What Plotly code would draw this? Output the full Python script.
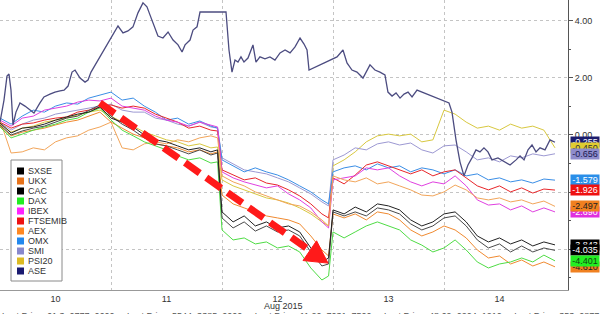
import plotly.graph_objects as go

# ---------------- data (percent change, Aug 10-14 2015) ----------------
T = [0.0, 0.1, 0.2, 0.3, 0.4, 0.5, 0.6, 0.7, 0.8, 0.9, 1.0, 1.1, 1.2, 1.3, 1.4, 1.5, 1.6, 1.7, 1.8, 1.9,
     1.96, 2.0, 2.1, 2.2, 2.3, 2.4, 2.5, 2.6, 2.7, 2.8, 2.9, 2.96, 3.0, 3.1, 3.2, 3.3, 3.4, 3.5, 3.6, 3.7,
     3.8, 3.9, 4.0, 4.1, 4.2, 4.3, 4.4, 4.5, 4.6, 4.7, 4.8, 4.9, 5.0]

omx = [0.59, 0.38, 0.66, 0.87, 0.80, 1.01, 1.12, 1.08, 1.29, 1.40, 1.50, 1.22, 1.29, 1.01, 0.80, 0.52, 0.59, 0.38, 0.49, 0.31, 0.24,
       -0.87, -1.08, -1.29, -1.15, -1.29, -1.40, -1.57, -1.78, -1.99, -2.27, -2.41,
       -1.29, -1.15, -1.08, -1.22, -1.01, -1.15, -1.08, -1.29, -1.15, -1.22, -1.36, -1.22, -1.43, -1.36, -1.57, -1.50, -1.64, -1.57, -1.68, -1.54, -1.579]
ibex = [0.52, 0.31, 0.59, 0.66, 0.87, 0.94, 1.01, 1.15, 1.22, 1.19, 1.29, 1.01, 0.94, 0.87, 0.66, 0.52, 0.45, 0.31, 0.45, 0.35, 0.28,
        -1.29, -1.50, -1.64, -1.75, -1.85, -1.78, -2.06, -2.27, -2.55, -3.04, -3.25,
        -1.57, -1.50, -1.43, -1.15, -1.22, -1.15, -1.43, -1.64, -1.78, -1.64, -1.71, -1.43, -1.78, -2.27, -2.45, -2.41, -2.62, -2.48, -2.69, -2.55, -2.69]
ftsemib = [0.45, 0.24, 0.38, 0.42, 0.52, 0.59, 0.63, 0.80, 0.87, 0.98, 1.05, 0.94, 1.01, 0.94, 0.73, 0.59, 0.45, 0.24, 0.31, 0.17, 0.14,
           -1.22, -1.40, -1.57, -1.50, -1.68, -1.75, -1.92, -2.13, -2.41, -2.76, -2.90,
           -1.50, -1.71, -1.40, -1.05, -0.94, -1.08, -1.22, -1.36, -1.22, -1.43, -1.29, -1.22, -1.50, -1.78, -1.92, -1.78, -1.99, -1.85, -2.03, -1.89, -1.926]
smi = [0.42, 0.17, 0.38, 0.52, 0.59, 0.73, 0.80, 0.87, 0.94, 1.01, 1.08, 0.87, 0.80, 0.80, 0.59, 0.52, 0.38, 0.31, 0.45, 0.28, 0.24,
       -0.80, -1.01, -1.22, -1.29, -1.36, -1.50, -1.64, -1.85, -2.06, -2.34, -2.48,
       -0.87, -0.70, -0.45, -0.52, -0.31, -0.24, -0.35, -0.28, -0.52, -0.63, -0.38, -0.35, -0.59, -0.87, -0.80, -0.94, -0.73, -0.80, -0.66, -0.73, -0.656]
ukx = [0.52, -0.63, -0.59, -0.45, -0.52, -0.24, -0.10, -0.03, 0.17, 0.28, 0.45, -0.45, -0.52, -0.31, -0.24, -0.31, -0.17, -0.24, -0.10, -0.03, -0.10,
       -1.43, -1.64, -1.78, -1.99, -2.13, -2.27, -2.41, -2.48, -2.69, -2.97, -3.18,
       -1.43, -1.57, -1.64, -1.50, -1.71, -1.64, -1.78, -1.92, -2.10, -2.13, -1.99, -1.75, -1.92, -2.20, -2.27, -2.20, -2.34, -2.27, -2.41, -2.31, -2.497]
sxse = [0.42, 0.07, 0.24, 0.28, 0.38, 0.52, 0.63, 0.73, 0.80, 0.98, 0.59, 0.45, 0.28, 0.00, -0.17, -0.24, -0.38, -0.52, -0.45, -0.59, -0.52,
        -2.69, -3.04, -2.83, -3.18, -3.04, -3.25, -3.18, -3.39, -3.95, -4.44, -4.30,
        -2.62, -2.76, -2.52, -2.69, -2.41, -2.48, -2.62, -2.97, -3.18, -3.04, -2.76, -2.69, -3.04, -3.53, -3.74, -3.60, -3.81, -3.67, -3.88, -3.74, -3.843]
cac = [0.35, 0.00, 0.14, 0.24, 0.31, 0.45, 0.59, 0.66, 0.87, 1.05, 0.66, 0.38, 0.17, -0.10, -0.31, -0.38, -0.52, -0.66, -0.52, -0.70, -0.63,
       -2.90, -3.25, -3.04, -3.36, -3.18, -3.39, -3.32, -3.53, -4.09, -4.58, -4.51,
       -2.69, -2.83, -2.69, -2.83, -2.55, -2.62, -2.76, -3.11, -3.32, -3.18, -2.90, -2.83, -3.18, -3.67, -3.95, -3.81, -4.09, -3.88, -4.09, -3.95, -4.035]
aex = [0.31, -0.03, 0.10, 0.17, 0.24, 0.35, 0.45, 0.52, 0.66, 0.80, 0.45, 0.24, 0.03, -0.10, -0.31, -0.38, -0.45, -0.59, -0.52, -0.66, -0.59,
       -2.10, -2.41, -2.55, -2.69, -2.83, -2.90, -2.97, -3.11, -3.53, -4.02, -4.23,
       -2.76, -2.90, -2.76, -2.97, -2.69, -2.76, -2.97, -3.32, -3.53, -3.39, -3.18, -3.32, -3.60, -4.02, -4.30, -4.23, -4.51, -4.37, -4.58, -4.44, -4.61]
dax = [0.28, -0.10, 0.03, 0.17, 0.28, 0.38, 0.52, 0.59, 0.80, 0.94, 0.52, 0.17, -0.03, -0.24, -0.38, -0.52, -0.73, -0.87, -0.80, -0.98, -0.94,
       -3.32, -3.67, -3.60, -3.81, -3.74, -3.95, -3.88, -4.09, -4.65, -5.07, -4.93,
       -3.39, -3.60, -3.39, -3.18, -3.04, -3.18, -3.32, -3.67, -3.85, -4.09, -3.95, -3.67, -4.02, -4.44, -4.65, -4.51, -4.44, -4.30, -4.44, -4.20, -4.401]
psi20 = [0.38, 0.10, 0.24, 0.31, 0.45, 0.52, 0.59, 0.70, 0.80, 0.87, 0.66, 0.45, 0.31, 0.10, -0.03, -0.17, -0.24, -0.38, -0.31, -0.45, -0.42,
         -1.57, -1.78, -1.92, -2.06, -2.20, -2.27, -2.38, -2.55, -2.76, -3.04, -3.18,
         -1.08, -0.87, -0.59, -0.24, -0.03, 0.03, -0.03, 0.03, -0.24, -0.17, 0.87, 0.73, 0.45, 0.24, 0.31, 0.17, 0.38, 0.24, 0.31, 0.17, -0.45]

ase_t = [0.0, 0.036, 0.063, 0.081, 0.099, 0.117, 0.144, 0.18, 0.225, 0.27, 0.306, 0.36, 0.396, 0.45, 0.495, 0.541, 0.577, 0.613,
         0.649, 0.676, 0.721, 0.766, 0.793, 0.82, 1.036, 1.063, 1.108, 1.153, 1.198, 1.243, 1.288, 1.324, 1.351, 1.396, 1.423,
         1.468, 1.514, 1.559, 1.604, 1.64, 1.667, 1.712, 1.739, 1.775, 1.802, 2.036, 2.063, 2.09, 2.117, 2.144, 2.171, 2.198,
         2.234, 2.279, 2.306, 2.342, 2.387, 2.432, 2.477, 2.523, 2.568, 2.613, 2.658, 2.703, 2.739, 2.766, 2.784, 3.036, 3.09,
         3.126, 3.171, 3.216, 3.27, 3.333, 3.378, 3.423, 3.468, 3.495, 3.532, 3.568, 3.604, 3.64, 3.676, 3.712, 3.757, 4.045,
         4.072, 4.108, 4.144, 4.18, 4.216, 4.252, 4.288, 4.324, 4.36, 4.396, 4.432, 4.486, 4.541, 4.595, 4.649, 4.685, 4.721,
         4.757, 4.793, 4.829, 4.865, 4.91, 4.955, 5.0]
ase_v = [0.45, 1.22, 2.06, 2.13, 1.57, 0.35, 0.80, 1.12, 1.01, 0.87, 0.77, 1.12, 1.33, 1.43, 1.50, 1.54, 1.57, 1.71,
         2.20, 2.27, 1.99, 1.85, 1.92, 2.20, 3.67, 3.81, 3.57, 3.64, 3.78, 4.27, 4.62, 4.48, 4.20, 3.74, 3.46,
         3.39, 3.60, 3.32, 3.15, 2.90, 3.15, 3.32, 3.67, 3.78, 4.30, 4.30, 2.97, 2.20, 2.62, 2.55, 2.73, 2.55,
         2.69, 3.15, 2.55, 2.73, 2.66, 2.73, 2.62, 2.87, 2.97, 2.87, 3.08, 3.39, 3.18, 2.97, 2.27, 2.73, 2.97,
         2.52, 2.27, 2.20, 1.99, 2.45, 2.27, 2.20, 2.10, 1.50, 1.36, 1.47, 1.29, 1.43, 1.50, 1.33, 1.57, 1.12,
         0.80, -0.17, -0.94, -1.43, -1.05, -0.80, -0.52, -0.59, -0.45, -0.59, -0.87, -0.80, -0.94, -1.05, -0.87, -0.73, -0.87,
         -0.52, -0.35, -0.59, -0.45, -0.52, -0.17, -0.255]

day_labels = ["10", "11", "12", "13", "14"]
y_ticks = [-4, -2, 0, 2, 4]
y_tick_text = ["", "", "0.00", "2.00", "4.00"]  # -2.00 / -4.00 sit hidden under the value tags
legend_names = ["SXSE", "UKX", "CAC", "DAX", "IBEX", "FTSEMIB", "AEX", "OMX", "SMI", "PSI20", "ASE"]
# last-value tags, drawn in this order (later ones on top)
tag_order = ["ASE", "PSI20", "SMI", "OMX", "FTSEMIB", "IBEX", "UKX", "SXSE", "CAC", "AEX", "DAX"]

series = {"SXSE": sxse, "UKX": ukx, "CAC": cac, "DAX": dax, "IBEX": ibex, "FTSEMIB": ftsemib,
          "AEX": aex, "OMX": omx, "SMI": smi, "PSI20": psi20}

# ---------------- styles ----------------
line_col = {"SXSE": "#222222", "UKX": "#f2a55a", "CAC": "#4a4a4a", "DAX": "#4fdc45", "IBEX": "#e040e0",
            "FTSEMIB": "#e8262a", "AEX": "#f08a30", "OMX": "#3a8ee6", "SMI": "#9c98d2", "PSI20": "#d8c840",
            "ASE": "#4c4c80"}
swatch_col = {"SXSE": "#000000", "UKX": "#e8731a", "CAC": "#000000", "DAX": "#22ee22", "IBEX": "#ff22ff",
              "FTSEMIB": "#ee1111", "AEX": "#ff8822", "OMX": "#2288ee", "SMI": "#8888cc", "PSI20": "#ddbb22",
              "ASE": "#1a1a70"}
tag_bg = {"ASE": "#1c1c6c", "PSI20": "#e0cc30", "SMI": "#8e8ccc", "OMX": "#2a8ee8", "FTSEMIB": "#ee1111",
          "IBEX": "#e030e0", "UKX": "#f08020", "SXSE": "#000000", "CAC": "#000000", "AEX": "#f08020",
          "DAX": "#22ee22"}
tag_fg = {"ASE": "white", "PSI20": "#333333", "SMI": "#1a1a50", "OMX": "white", "FTSEMIB": "white",
          "IBEX": "white", "UKX": "#222222", "SXSE": "white", "CAC": "white", "AEX": "#222222", "DAX": "#114411"}

FONT = "Liberation Sans Narrow, Arial Narrow, Liberation Sans, Arial, sans-serif"
PW, PH = 568.0, 290.0  # plot area size in px

def px(x):
    return x / PW

def py(y):
    return (PH - y) / PH

fig = go.Figure()

draw_order = ["PSI20", "SMI", "OMX", "FTSEMIB", "IBEX", "UKX", "AEX", "DAX", "CAC", "SXSE"]
for name in draw_order:
    fig.add_trace(go.Scatter(x=T, y=series[name], mode="lines", name=name,
                             line=dict(color=line_col[name], width=1), hoverinfo="skip"))
fig.add_trace(go.Scatter(x=ase_t, y=ase_v, mode="lines", name="ASE",
                         line=dict(color=line_col["ASE"], width=1.3), hoverinfo="skip"))

shapes = []
annotations = []

# red dashed trend arrow
shapes.append(dict(type="line", xref="x", yref="y", x0=0.90, y0=1.12, x1=2.793, y1=-4.04,
                   line=dict(color="#ff1a1a", width=7, dash="18px,8px")))
shapes.append(dict(type="path", xref="x", yref="y",
                   path="M 2.955,-4.48 L 2.730,-4.39 L 2.852,-3.70 Z",
                   fillcolor="#ff1a1a", line=dict(color="#ff1a1a", width=1)))

# legend box
shapes.append(dict(type="rect", xref="paper", yref="paper", x0=px(11), x1=px(62), y0=py(281), y1=py(160),
                   fillcolor="white", line=dict(color="#8a8a8a", width=1), layer="above"))
for i, name in enumerate(legend_names):
    yc = 171 + 10 * i
    shapes.append(dict(type="rect", xref="paper", yref="paper", x0=px(17), x1=px(24),
                       y0=py(yc + 3.5), y1=py(yc - 3.5), fillcolor=swatch_col[name],
                       line=dict(width=0), layer="above"))
    annotations.append(dict(xref="paper", yref="paper", x=px(26), y=py(yc), text=name, showarrow=False,
                            xanchor="left", yanchor="middle", font=dict(family=FONT, size=9, color="#333333")))

# last value tags on the right
tag_vals = {"SXSE": sxse[-1], "UKX": ukx[-1], "CAC": cac[-1], "DAX": dax[-1], "IBEX": ibex[-1],
            "FTSEMIB": ftsemib[-1], "AEX": aex[-1], "OMX": omx[-1], "SMI": smi[-1], "PSI20": psi20[-1],
            "ASE": ase_v[-1]}
for name in tag_order:
    v = tag_vals[name]
    annotations.append(dict(xref="paper", yref="y", x=1, y=v, xanchor="left", yanchor="middle", xshift=2,
                            text="%.3f" % v, showarrow=False, bgcolor=tag_bg[name], width=28, height=10,
                            borderpad=0, font=dict(family=FONT, size=9, color=tag_fg[name])))

annotations.append(dict(xref="paper", yref="paper", x=px(283), y=py(306), text="Aug 2015", showarrow=False,
                        xanchor="center", yanchor="middle", font=dict(family=FONT, size=9, color="#333333")))
annotations.append(dict(xref="paper", yref="paper", x=0, y=py(316), xanchor="left", yanchor="middle",
                        text="Last Price  61.3  0777  0600     Last Price  5544  3385  0000     Last Price  11.20  7031  7500     Last Price  48.69  0204  1210     Last Price  353  0877  6000",
                        showarrow=False, font=dict(family=FONT, size=9, color="#555555")))

fig.update_layout(
    width=600, height=314,
    margin=dict(l=0, r=32, t=0, b=24),
    paper_bgcolor="white", plot_bgcolor="white",
    showlegend=False,
    shapes=shapes, annotations=annotations,
    xaxis=dict(range=[0, PW / 111.0], tickmode="array", tickvals=[0.5, 1.5, 2.5, 3.5, 4.5], ticktext=day_labels,
               showgrid=False, zeroline=False, showline=True, linecolor="#999999", ticks="",
               tickfont=dict(family=FONT, size=9, color="#333333"),
               minor=dict(tickmode="array", tickvals=[1, 2, 3, 4], showgrid=True, gridcolor="#c4c4c4",
                          griddash="dot", gridwidth=1, ticks="")),
    yaxis=dict(side="right", range=[-5.42, 4.72], tickmode="array", tickvals=y_ticks, ticktext=y_tick_text,
               ticks="outside", ticklen=4, tickcolor="#555555",
               showline=True, linecolor="#555555", showgrid=True, gridcolor="#c4c4c4", griddash="dot",
               zeroline=False, tickfont=dict(family=FONT, size=9, color="#333333"),
               minor=dict(dtick=1, ticks="outside", ticklen=2, tickcolor="#555555", showgrid=False)),
)

fig.write_html("out.html")
